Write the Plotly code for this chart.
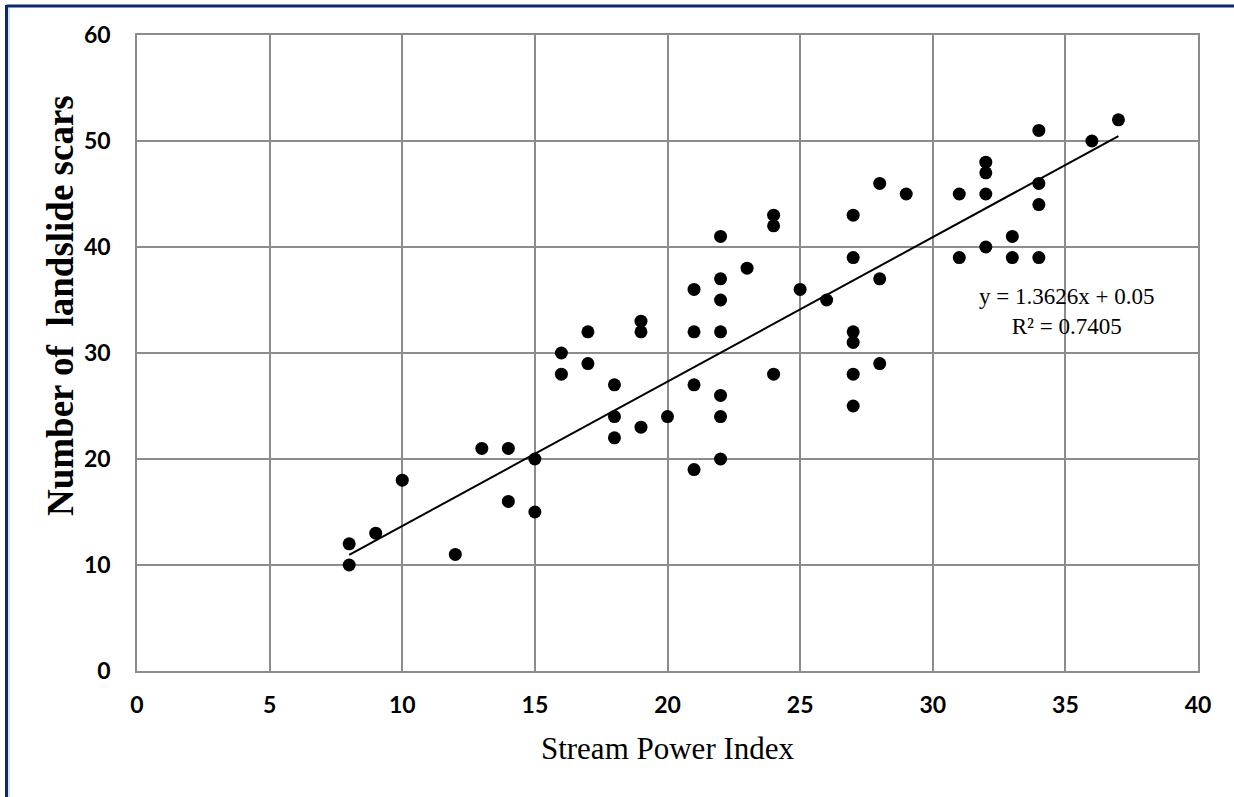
import plotly.graph_objects as go
import numpy as np

spi = [8, 8, 9, 10, 12, 13, 14, 14, 15, 15, 16, 16, 17, 17, 18, 18, 18, 19, 19, 19, 20,
       21, 21, 21, 21, 22, 22, 22, 22, 22, 22, 22, 23, 24, 24, 24, 25, 26,
       27, 27, 27, 27, 27, 27, 28, 28, 28, 29, 31, 31, 32, 32, 32, 32, 33, 33,
       34, 34, 34, 34, 36, 37]
scars = [12, 10, 13, 18, 11, 21, 21, 16, 20, 15, 30, 28, 32, 29, 27, 24, 22, 33, 32, 23, 24,
         36, 32, 27, 19, 41, 37, 35, 32, 26, 24, 20, 38, 43, 42, 28, 36, 35,
         43, 39, 32, 31, 28, 25, 46, 37, 29, 45, 45, 39, 48, 47, 45, 40, 41, 39,
         51, 46, 44, 39, 50, 52]

slope = 1.3626
intercept = 0.05
r2 = 0.7405

x_ticks = [0, 5, 10, 15, 20, 25, 30, 35, 40]
y_ticks = [0, 10, 20, 30, 40, 50, 60]

fit_x = np.array([min(spi), max(spi)])
fit_y = slope * fit_x + intercept

W, H = 1234, 797
ML, MR, MT, MB = 137, 36, 35, 126
pw, ph = W - ML - MR, H - MT - MB

def px_to_paper_x(px):
    return (px - ML) / pw

def px_to_paper_y(py):
    return (H - MB - py) / ph

fig = go.Figure()
fig.add_trace(go.Scatter(x=fit_x, y=fit_y, mode="lines",
                         line=dict(color="black", width=2), hoverinfo="skip"))
fig.add_trace(go.Scatter(x=spi, y=scars, mode="markers",
                         marker=dict(color="black", size=13)))

serif = "'Liberation Serif', 'Times New Roman', serif"
tickfont = dict(family="Lato, 'Noto Sans', sans-serif", size=23, color="black", weight="bold")

fig.update_layout(
    width=W, height=H,
    margin=dict(l=ML, r=MR, t=MT, b=MB),
    paper_bgcolor="white", plot_bgcolor="white",
    showlegend=False,
    xaxis=dict(range=[0, 40], tickvals=x_ticks, showgrid=True, gridcolor="#8c8c8c", gridwidth=1.5,
               showline=True, linecolor="#8c8c8c", linewidth=1.5, mirror=True, zeroline=False,
               ticks="", tickfont=tickfont, ticklabelstandoff=13,
               title=dict(text="Stream Power Index", font=dict(family=serif, size=31, color="black"),
                          standoff=20)),
    yaxis=dict(range=[0, 60], tickvals=y_ticks, showgrid=True, gridcolor="#8c8c8c", gridwidth=1.5,
               showline=True, linecolor="#8c8c8c", linewidth=1.5, mirror=True, zeroline=False,
               ticks="", tickfont=tickfont, ticklabelstandoff=20),
    annotations=[
        dict(x=px_to_paper_x(1066), y=px_to_paper_y(311), xref="paper", yref="paper",
             text=f"y = {slope}x + {intercept}<br>R² = {r2}", showarrow=False, align="center",
             font=dict(family=serif, size=23, color="black"),
             xanchor="center", yanchor="middle"),
        dict(x=px_to_paper_x(60), y=px_to_paper_y(306), xref="paper", yref="paper",
             text="Number of \u00a0landslide scars", showarrow=False, textangle=-90,
             font=dict(family=serif, size=37, color="black", weight="bold"),
             xanchor="center", yanchor="middle"),
    ],
    shapes=[
        dict(type="line", xref="paper", yref="paper",
             x0=px_to_paper_x(6.5), x1=px_to_paper_x(1240), y0=px_to_paper_y(6), y1=px_to_paper_y(6),
             line=dict(color="#0b2a6e", width=3)),
        dict(type="line", xref="paper", yref="paper",
             x0=px_to_paper_x(6.5), x1=px_to_paper_x(6.5), y0=px_to_paper_y(5), y1=px_to_paper_y(800),
             line=dict(color="#0b2a6e", width=3)),
        dict(type="line", xref="paper", yref="paper",
             x0=px_to_paper_x(9), x1=px_to_paper_x(9), y0=px_to_paper_y(8), y1=px_to_paper_y(800),
             line=dict(color="#b8c8e8", width=1)),
    ],
)

fig.write_html("out.html")
